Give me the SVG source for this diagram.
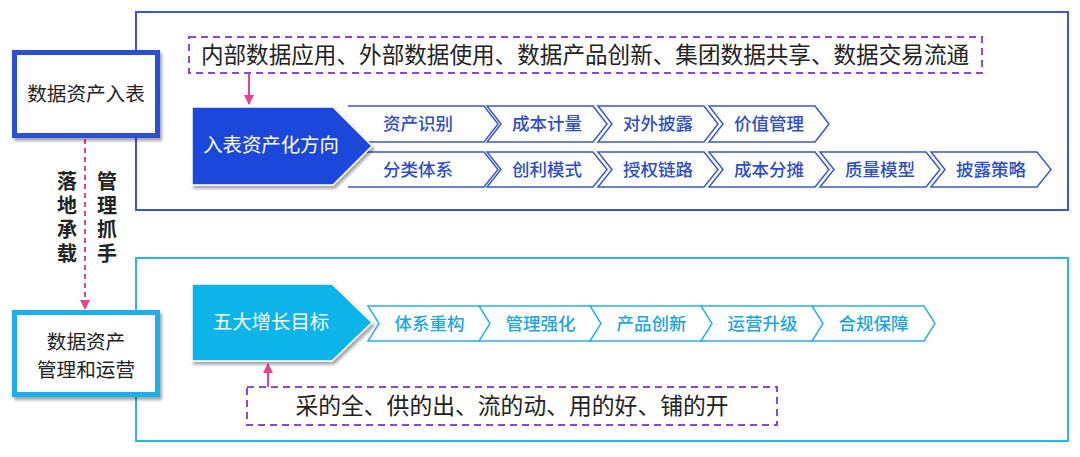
<svg xmlns="http://www.w3.org/2000/svg" width="1080" height="457" viewBox="0 0 1080 457">
<defs>
<style>
text{font-family:"Noto Sans CJK SC","Noto Sans",sans-serif;}
.ctitle{font-size:19.6px;fill:#222;text-anchor:middle;}
.ptext{font-size:19.4px;fill:#fff;text-anchor:middle;}
.bchev{fill:#fff;stroke:#3a58cc;stroke-width:1.5;}
.cchev{fill:#fff;stroke:#2ab2e4;stroke-width:1.5;}
.btxt{font-size:17.5px;font-weight:500;fill:#2d4ec4;text-anchor:middle;}
.ctxt{font-size:17.5px;font-weight:500;fill:#1ca6dc;text-anchor:middle;}
.dash{fill:#fff;stroke:#9046d2;stroke-width:2;stroke-dasharray:7 5;}
.pink{stroke:#e6428e;stroke-width:2;fill:none;}
.vert{font-size:20px;font-weight:bold;fill:#222;writing-mode:vertical-rl;letter-spacing:4px;}
.big{font-size:22.6px;fill:#222;text-anchor:middle;}
</style>
<filter id="sh" x="-10%" y="-10%" width="125%" height="130%">
<feDropShadow dx="2" dy="3" stdDeviation="1.5" flood-color="#000" flood-opacity="0.35"/>
</filter>
<marker id="ah" viewBox="0 0 10 10" refX="9" refY="5" markerWidth="5" markerHeight="5" orient="auto">
<path d="M0,0 L10,5 L0,10 z" fill="#e6428e"/>
</marker>
</defs>
<rect width="1080" height="457" fill="#fff"/>

<g id="frame-top"><rect x="136" y="12" width="932" height="198" fill="#fff" stroke="#3d55cc" stroke-width="2"/></g>
<g id="frame-bottom"><rect x="136" y="258" width="932" height="183" fill="#fff" stroke="#2ab5e5" stroke-width="2"/></g>

<g id="connectors">
<line class="pink" x1="249" y1="74" x2="249" y2="104" marker-end="url(#ah)"/>
<line class="pink" x1="268" y1="387" x2="268" y2="364" marker-end="url(#ah)"/>
<line class="pink" x1="85" y1="139" x2="85" y2="309" stroke-dasharray="5 4" marker-end="url(#ah)"/>
</g>

<g id="box-ruBiao">
<rect x="14.5" y="52.5" width="143" height="83" fill="#fff" stroke="#2b50d8" stroke-width="5" filter="url(#sh)"/>
<text class="ctitle" x="86" y="101">数据资产入表</text>
</g>
<g id="box-yunying">
<rect x="14.5" y="312.5" width="143" height="82" fill="#fff" stroke="#1cb0ea" stroke-width="5" filter="url(#sh)"/>
<text class="ctitle" x="86" y="349">数据资产</text>
<text class="ctitle" x="86" y="377">管理和运营</text>
</g>

<g id="label-luodi">
<text class="vert" x="67" y="171">落地承载</text>
</g>
<g id="label-guanli">
<text class="vert" x="107" y="171">管理抓手</text>
</g>

<g id="scenarios">
<rect class="dash" x="189" y="37" width="793" height="36"/>
<text class="big" x="585" y="63">内部数据应用、外部数据使用、数据产品创新、集团数据共享、数据交易流通</text>
</g>

<g id="chevrons-top">
<path class="bchev" d="M348,106 L484,106 L498,124 L484,142 L348,142"/>
<text class="btxt" x="418" y="130">资产识别</text>
<path class="bchev" d="M348,152 L484,152 L498,169.5 L484,187 L348,187"/>
<text class="btxt" x="418" y="175.5">分类体系</text>
<polygon class="bchev" points="487,106 593,106 607,124 593,142 487,142 501,124"/>
<text class="btxt" x="547" y="130">成本计量</text>
<polygon class="bchev" points="598,106 704,106 718,124 704,142 598,142 612,124"/>
<text class="btxt" x="658" y="130">对外披露</text>
<polygon class="bchev" points="709,106 815,106 829,124 815,142 709,142 723,124"/>
<text class="btxt" x="769" y="130">价值管理</text>
<polygon class="bchev" points="487,152 593,152 607,169.5 593,187 487,187 501,169.5"/>
<text class="btxt" x="547" y="175.5">创利模式</text>
<polygon class="bchev" points="598,152 704,152 718,169.5 704,187 598,187 612,169.5"/>
<text class="btxt" x="658" y="175.5">授权链路</text>
<polygon class="bchev" points="709,152 815,152 829,169.5 815,187 709,187 723,169.5"/>
<text class="btxt" x="769" y="175.5">成本分摊</text>
<polygon class="bchev" points="820,152 926,152 940,169.5 926,187 820,187 834,169.5"/>
<text class="btxt" x="880" y="175.5">质量模型</text>
<polygon class="bchev" points="931,152 1037,152 1051,169.5 1037,187 931,187 945,169.5"/>
<text class="btxt" x="991" y="175.5">披露策略</text>
</g>

<g id="pentagon-top">
<polygon points="192,107 333,107 372,146 333,185 192,185" fill="#1f47db" stroke="#fff" stroke-width="1.5" filter="url(#sh)"/>
<text class="ptext" x="271" y="152">入表资产化方向</text>
</g>

<g id="chevrons-bottom">
<polygon class="cchev" points="368,306 480,306 491,323.5 480,341 368,341 379,323.5"/>
<text class="ctxt" x="429.5" y="329.5">体系重构</text>
<polygon class="cchev" points="479,306 591,306 602,323.5 591,341 479,341 490,323.5"/>
<text class="ctxt" x="540.5" y="329.5">管理强化</text>
<polygon class="cchev" points="590,306 702,306 713,323.5 702,341 590,341 601,323.5"/>
<text class="ctxt" x="651.5" y="329.5">产品创新</text>
<polygon class="cchev" points="701,306 813,306 824,323.5 813,341 701,341 712,323.5"/>
<text class="ctxt" x="762.5" y="329.5">运营升级</text>
<polygon class="cchev" points="812,306 924,306 935,323.5 924,341 812,341 823,323.5"/>
<text class="ctxt" x="873.5" y="329.5">合规保障</text>
</g>

<g id="pentagon-bottom">
<polygon points="192,284 332,284 372,322.5 332,361 192,361" fill="#0fb4ea" stroke="#fff" stroke-width="1.5" filter="url(#sh)"/>
<text class="ptext" x="271" y="329">五大增长目标</text>
</g>

<g id="goals">
<rect class="dash" x="247" y="387" width="530" height="38"/>
<text class="big" x="512" y="414" style="font-size:22.8px">采的全、供的出、流的动、用的好、铺的开</text>
</g>
</svg>
